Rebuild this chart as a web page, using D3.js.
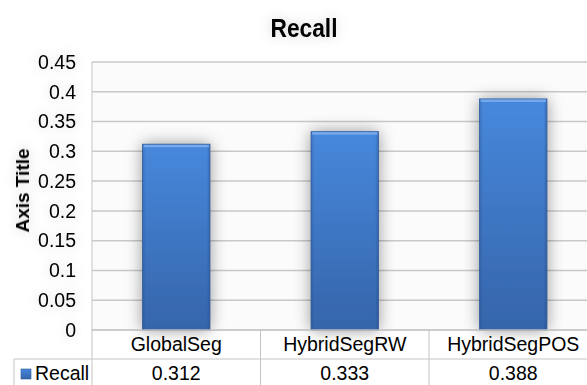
<!DOCTYPE html>
<html>
<head>
<meta charset="utf-8">
<script src="https://cdn.jsdelivr.net/npm/d3@7"></script>
<style>
  html, body { margin: 0; padding: 0; background: #ffffff; }
  svg { display: block; font-family: "Liberation Sans", Arial, sans-serif; }
</style>
</head>
<body>
<svg id="chart" width="587" height="385"></svg>
<script>
// Chart data
const categories = ["GlobalSeg", "HybridSegRW", "HybridSegPOS"];
const seriesName = "Recall";
const recallValues = [0.312, 0.333, 0.388];
const yTicks = [0, 0.05, 0.1, 0.15, 0.2, 0.25, 0.3, 0.35, 0.4, 0.45];
const valueLabels = ["0.312", "0.333", "0.388"];
const chartTitle = "Recall";
const yAxisTitle = "Axis Title";

const svg = d3.select("#chart");
const W = 587, H = 385;

const plot = { left: 92, right: 597.5, top: 62, bottom: 330 };
const tableRow1 = 330, tableRow2 = 359, tableLeft = 14;

const x = d3.scaleBand()
  .domain(categories)
  .range([plot.left, plot.right])
  .paddingInner(0.6)
  .paddingOuter(0.3);
const xCol = d3.scaleBand().domain(categories).range([plot.left, plot.right]);
const y = d3.scaleLinear().domain([0, 0.45]).range([plot.bottom, plot.top]);

const defs = svg.append("defs");

// bar gradient
const g1 = defs.append("linearGradient").attr("id", "barFill")
  .attr("x1", 0).attr("y1", 0).attr("x2", 0).attr("y2", 1);
g1.append("stop").attr("offset", "0%").attr("stop-color", "#4788dc");
g1.append("stop").attr("offset", "100%").attr("stop-color", "#3565aa");

// side shading on the bars
const g2 = defs.append("linearGradient").attr("id", "barSides")
  .attr("x1", 0).attr("y1", 0).attr("x2", 1).attr("y2", 0);
g2.append("stop").attr("offset", "0%").attr("stop-color", "#1e3f78").attr("stop-opacity", 0.3);
g2.append("stop").attr("offset", "5%").attr("stop-color", "#1e3f78").attr("stop-opacity", 0);
g2.append("stop").attr("offset", "95%").attr("stop-color", "#1e3f78").attr("stop-opacity", 0);
g2.append("stop").attr("offset", "100%").attr("stop-color", "#1e3f78").attr("stop-opacity", 0.35);

// soft shadow for the bars
const fBar = defs.append("filter").attr("id", "barShadow")
  .attr("x", "-60%").attr("y", "-40%").attr("width", "220%").attr("height", "180%");
fBar.append("feDropShadow").attr("dx", 0).attr("dy", 0).attr("stdDeviation", 8)
  .attr("flood-color", "#000").attr("flood-opacity", 0.42);

// soft haze behind text
const fText = defs.append("filter").attr("id", "textShadow")
  .attr("x", "-40%").attr("y", "-60%").attr("width", "180%").attr("height", "220%");
fText.append("feDropShadow").attr("dx", 0).attr("dy", 0).attr("stdDeviation", 6)
  .attr("flood-color", "#000").attr("flood-opacity", 0.18);

// plot area background
svg.append("rect")
  .attr("x", plot.left).attr("y", plot.top)
  .attr("width", plot.right - plot.left).attr("height", plot.bottom - plot.top)
  .attr("fill", "#fbfbfb");

// gridlines
svg.append("g").selectAll("line")
  .data(yTicks.filter(d => d > 0))
  .join("line")
  .attr("x1", plot.left).attr("x2", W)
  .attr("y1", d => y(d)).attr("y2", d => y(d))
  .attr("stroke", "#c8c8c8").attr("stroke-width", 1.5);

// left edge of plot, continuing down through the table
svg.append("line")
  .attr("x1", plot.left).attr("x2", plot.left)
  .attr("y1", plot.top).attr("y2", H)
  .attr("stroke", "#c4c4c4").attr("stroke-width", 1);

// y axis tick labels
const yAxis = d3.axisLeft(y).tickValues(yTicks).tickSize(0).tickPadding(16)
  .tickFormat(d => d3.format("")(+d.toFixed(2)));
const yg = svg.append("g").attr("transform", `translate(${plot.left},0)`).call(yAxis);
yg.select(".domain").remove();
yg.selectAll("text")
  .attr("font-size", 19.5).attr("fill", "#000")
  .attr("font-family", "'Liberation Sans', Arial, sans-serif")
  .attr("filter", "url(#textShadow)");

// bars
const bars = svg.append("g").selectAll("g.bar")
  .data(categories.map((c, i) => ({ c, v: recallValues[i] })))
  .join("g").attr("class", "bar");
bars.append("rect")
  .attr("x", d => x(d.c)).attr("y", d => y(d.v))
  .attr("width", x.bandwidth()).attr("height", d => y(0) - y(d.v))
  .attr("fill", "url(#barFill)")
  .attr("filter", "url(#barShadow)");
bars.append("rect")
  .attr("x", d => x(d.c)).attr("y", d => y(d.v))
  .attr("width", x.bandwidth()).attr("height", d => y(0) - y(d.v))
  .attr("fill", "url(#barSides)");
bars.append("rect")
  .attr("x", d => x(d.c) + 1).attr("y", d => y(d.v))
  .attr("width", x.bandwidth() - 2).attr("height", 3)
  .attr("fill", "#7fb0ee").attr("opacity", 0.85);
bars.append("rect")
  .attr("x", d => x(d.c)).attr("y", d => y(d.v))
  .attr("width", x.bandwidth()).attr("height", d => y(0) - y(d.v))
  .attr("fill", "none").attr("stroke", "#2f5b9c").attr("stroke-width", 0.8);

// data table lines
const tl = svg.append("g").attr("stroke", "#c4c4c4").attr("stroke-width", 1);
tl.append("line").attr("x1", plot.left).attr("x2", W)
  .attr("y1", tableRow1).attr("y2", tableRow1).attr("stroke", "#bdbdbd").attr("stroke-width", 1.5);
tl.append("line").attr("x1", tableLeft).attr("x2", W)
  .attr("y1", tableRow2).attr("y2", tableRow2);
tl.append("line").attr("x1", tableLeft).attr("x2", tableLeft)
  .attr("y1", tableRow2).attr("y2", H);
tl.selectAll("line.col")
  .data(categories.slice(1))
  .join("line").attr("class", "col")
  .attr("x1", d => xCol(d)).attr("x2", d => xCol(d))
  .attr("y1", tableRow1).attr("y2", H);

// category labels (table row 1)
svg.append("g").selectAll("text")
  .data(categories)
  .join("text")
  .attr("x", d => xCol(d) + xCol.bandwidth() / 2)
  .attr("y", 351)
  .attr("text-anchor", "middle")
  .attr("font-size", 19.5).attr("fill", "#000")
  .text(d => d);

// value labels (table row 2)
svg.append("g").selectAll("text")
  .data(categories.map((c, i) => ({ c, t: valueLabels[i] })))
  .join("text")
  .attr("x", d => xCol(d.c) + xCol.bandwidth() / 2)
  .attr("y", 380)
  .attr("text-anchor", "middle")
  .attr("font-size", 19.5).attr("fill", "#000")
  .text(d => d.t);

// legend key + series name
svg.append("rect")
  .attr("x", 21).attr("y", 369).attr("width", 10).attr("height", 10)
  .attr("fill", "url(#barFill)").attr("stroke", "#2f5b9c").attr("stroke-width", 0.6);
svg.append("text")
  .attr("x", 35).attr("y", 379.5)
  .attr("font-size", 19.5).attr("fill", "#000")
  .text(seriesName);

// chart title
svg.append("text")
  .attr("x", 304).attr("y", 36.5)
  .attr("text-anchor", "middle")
  .attr("font-size", 26).attr("font-weight", "bold").attr("fill", "#000")
  .attr("textLength", 67).attr("lengthAdjust", "spacingAndGlyphs")
  .attr("filter", "url(#textShadow)")
  .text(chartTitle);

// y axis title
svg.append("text")
  .attr("transform", "translate(29,190.5) rotate(-90)")
  .attr("text-anchor", "middle")
  .attr("font-size", 19).attr("font-weight", "bold").attr("fill", "#000")
  .attr("filter", "url(#textShadow)")
  .text(yAxisTitle);
</script>
</body>
</html>
